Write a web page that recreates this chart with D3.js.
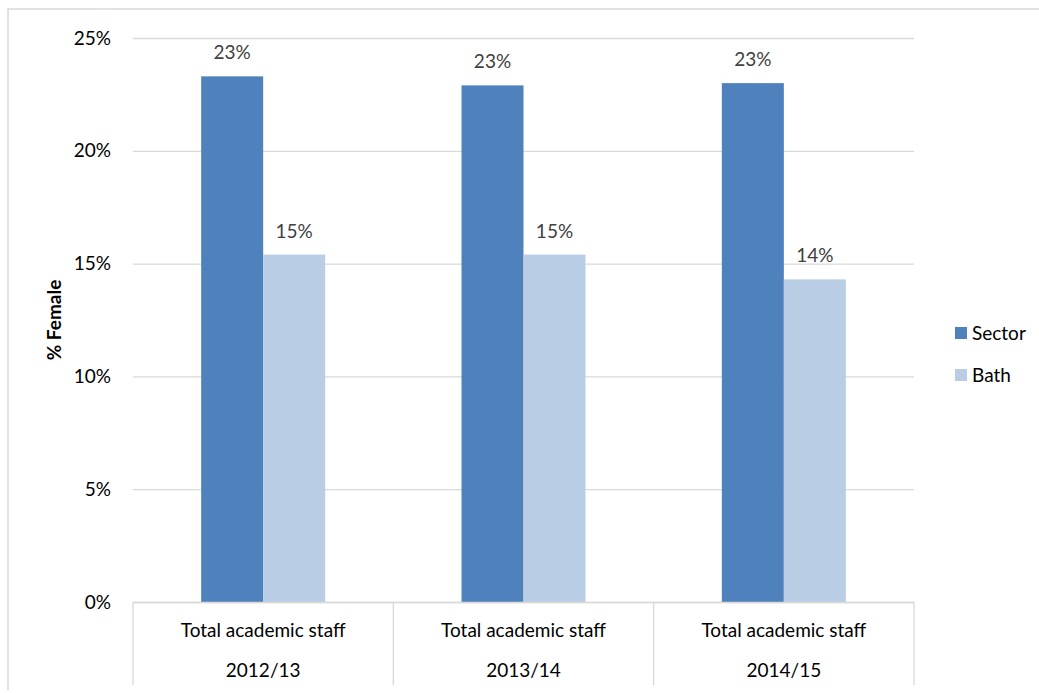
<!DOCTYPE html>
<html>
<head>
<meta charset="utf-8">
<script src="https://cdn.jsdelivr.net/npm/d3@7"></script>
<style>
body { margin: 0; background: #fff; }
text { font-family: Lato, "Open Sans", sans-serif; }
</style>
</head>
<body>
<script>
var w = 1039;
var h = 693;
var fs = 19;

// data
var years = ["2012/13", "2013/14", "2014/15"];
var groupLabel = "Total academic staff";
var seriesNames = ["Sector", "Bath"];
var sector = [23.3, 22.9, 23.0];
var bath = [15.4, 15.4, 14.3];
var yTicks = [0, 5, 10, 15, 20, 25];
var colors = ["#4f81bd", "#b9cde5"];

var svg = d3.select("body")
	.append("svg")
	.attr("width", w)
	.attr("height", h);

// outer chart border
svg.append("path")
	.attr("d", "M8,690 L8,9 L1039,9")
	.attr("fill", "none")
	.attr("stroke", "#d9d9d9")
	.attr("stroke-width", 1.5);

var plotL = 133, plotR = 914, plotT = 38, plotB = 602;

var x = d3.scaleBand()
	.domain(years)
	.range([plotL, plotR]);

var x1 = d3.scaleBand()
	.domain(seriesNames)
	.range([0, 124]);

var y = d3.scaleLinear()
	.domain([0, 25])
	.range([plotB, plotT]);

// gridlines
svg.selectAll("line.grid")
	.data(yTicks)
	.enter()
	.append("line")
	.attr("class", "grid")
	.attr("x1", plotL)
	.attr("x2", plotR)
	.attr("y1", function(d){ return y(d) + 0.5; })
	.attr("y2", function(d){ return y(d) + 0.5; })
	.attr("stroke", "#d9d9d9")
	.attr("stroke-width", 1.3);

// y tick labels
svg.selectAll("text.ytick")
	.data(yTicks)
	.enter()
	.append("text")
	.attr("class", "ytick")
	.attr("x", 111)
	.attr("y", function(d){ return y(d); })
	.attr("dy", "0.35em")
	.attr("text-anchor", "end")
	.attr("font-size", fs)
	.attr("fill", "#000")
	.text(function(d){ return d + "%"; });

// y axis title
svg.append("text")
	.attr("transform", "translate(61,320) rotate(-90)")
	.attr("text-anchor", "middle")
	.attr("font-size", fs)
	.attr("font-weight", "bold")
	.attr("fill", "#000")
	.text("% Female");

var rows = [];
years.forEach(function(yr, i){
	rows.push({year: yr, series: "Sector", value: sector[i]});
	rows.push({year: yr, series: "Bath", value: bath[i]});
});

var off = (x.bandwidth() - 124) / 2;

svg.selectAll("rect.bar")
	.data(rows)
	.enter()
	.append("rect")
	.attr("class", "bar")
	.attr("x", function(d){ return x(d.year) + off + x1(d.series); })
	.attr("y", function(d){ return y(d.value); })
	.attr("width", x1.bandwidth())
	.attr("height", function(d){ return y(0) - y(d.value); })
	.attr("fill", function(d){ return d.series == "Sector" ? colors[0] : colors[1]; });

svg.selectAll("text.lbl")
	.data(rows)
	.enter()
	.append("text")
	.attr("class", "lbl")
	.attr("x", function(d){ return x(d.year) + off + x1(d.series) + x1.bandwidth() / 2; })
	.attr("y", function(d){ return y(d.value) - 17; })
	.attr("text-anchor", "middle")
	.attr("font-size", fs)
	.attr("fill", "#404040")
	.text(function(d){ return Math.round(d.value) + "%"; });

// category axis
svg.append("line")
	.attr("x1", plotL).attr("x2", plotR)
	.attr("y1", plotB + 0.5).attr("y2", plotB + 0.5)
	.attr("stroke", "#d9d9d9")
	.attr("stroke-width", 1.3);

var seps = years.map(function(d){ return x(d); }).concat([plotR]);
svg.selectAll("line.sep")
	.data(seps)
	.enter()
	.append("line")
	.attr("class", "sep")
	.attr("x1", function(d){ return d; })
	.attr("x2", function(d){ return d; })
	.attr("y1", plotB)
	.attr("y2", 685)
	.attr("stroke", "#d9d9d9")
	.attr("stroke-width", 1.3);

svg.selectAll("text.cat")
	.data(years)
	.enter()
	.append("text")
	.attr("class", "cat")
	.attr("x", function(d){ return x(d) + x.bandwidth() / 2; })
	.attr("y", 630)
	.attr("dy", "0.35em")
	.attr("text-anchor", "middle")
	.attr("font-size", fs)
	.attr("fill", "#000")
	.text(groupLabel);

svg.selectAll("text.yr")
	.data(years)
	.enter()
	.append("text")
	.attr("class", "yr")
	.attr("x", function(d){ return x(d) + x.bandwidth() / 2; })
	.attr("y", 670)
	.attr("dy", "0.35em")
	.attr("text-anchor", "middle")
	.attr("font-size", fs)
	.attr("fill", "#000")
	.text(function(d){ return d; });

// legend
var legend = svg.selectAll("g.legend")
	.data(seriesNames)
	.enter()
	.append("g")
	.attr("class", "legend")
	.attr("transform", function(d, i){ return "translate(955," + (327 + i * 42) + ")"; });
legend.append("rect")
	.attr("width", 12)
	.attr("height", 12)
	.attr("fill", function(d, i){ return colors[i]; });
legend.append("text")
	.attr("x", 17)
	.attr("y", 6)
	.attr("dy", "0.35em")
	.attr("font-size", fs)
	.attr("fill", "#000")
	.text(function(d){ return d; });
</script>
</body>
</html>
